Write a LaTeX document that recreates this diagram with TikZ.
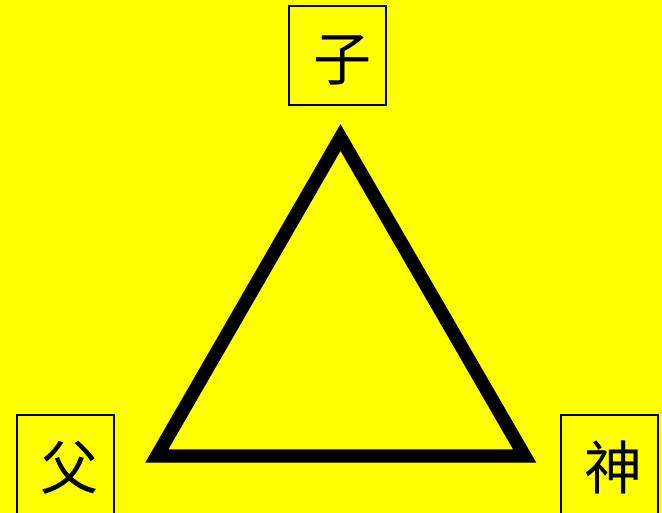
\documentclass[tikz,border=0pt]{standalone}
\usepackage{fontspec}
\newfontfamily\cjk{Noto Sans CJK SC}
\definecolor{bgyellow}{RGB}{255,255,0}
\begin{document}
\begin{tikzpicture}[x=1pt,y=1pt,
  charbox/.style={draw=black,line width=1.5pt,minimum width=97pt,minimum height=99pt,inner sep=0pt,fill=bgyellow},
  chartext/.style={font=\cjk\fontsize{58}{58}\selectfont,inner sep=0pt}]
\useasboundingbox (0,0) rectangle (662,513);
\fill[bgyellow] (0,0) rectangle (662,513);
\node[charbox] (bson) at (337.5,457.5) {};
\node[charbox] (bfather) at (65.5,48.5) {};
\node[charbox] (bspirit) at (609.5,48.5) {};
\node[chartext] (son) at (342,453) {子};
\node[chartext] (father) at (69,45) {父};
\node[chartext] (spirit) at (613.5,46) {神};
\coordinate (apex) at (340.5,375.5);
\coordinate (left) at (156.8,57);
\coordinate (right) at (524.7,57);
\draw[line width=13.4pt,line join=miter,miter limit=10] (apex) -- (left) -- (right) -- cycle;
\end{tikzpicture}
\end{document}
